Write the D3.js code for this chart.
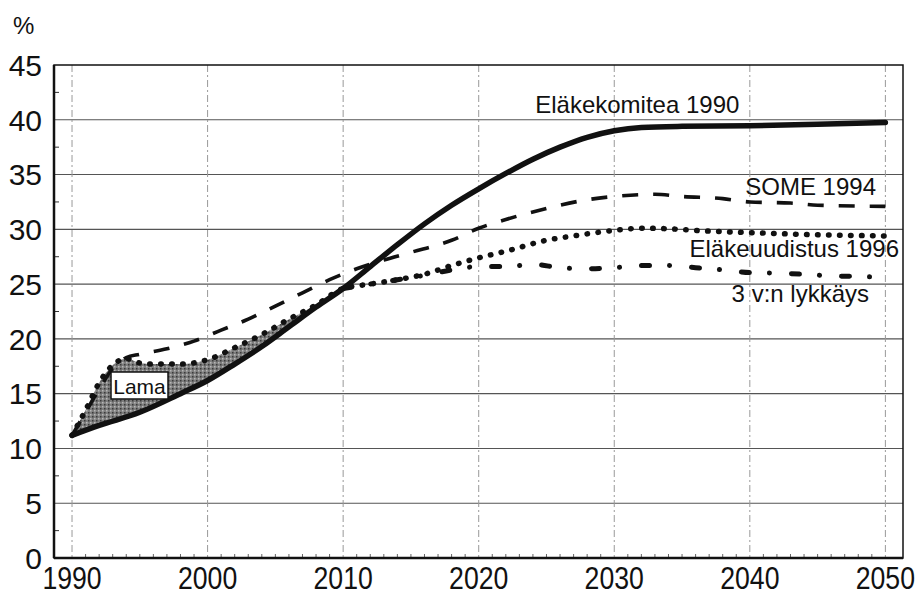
<!DOCTYPE html>
<html><head><meta charset="utf-8">
<script src="https://cdn.jsdelivr.net/npm/d3@7"></script>
<style>
html,body{margin:0;padding:0;background:#fff;}
text{font-family:"Liberation Sans",Arial,sans-serif;fill:#111;}
</style></head>
<body><svg id="c" width="922" height="597"></svg>
<script>
// ---- data ----
const xTicks = [1990, 2000, 2010, 2020, 2030, 2040, 2050];
const yTicks = [0, 5, 10, 15, 20, 25, 30, 35, 40, 45];

const komiteaYears = [1990,1992,1995,1998,2000,2002,2004,2006,2008,2010,2012,2014,2016,2018,2020,2022,2024,2026,2028,2030,2032,2035,2040,2045,2050];
const komiteaVals  = [11.2,12.1,13.3,15.0,16.2,17.7,19.3,21.1,22.9,24.6,26.6,28.6,30.5,32.2,33.7,35.1,36.4,37.5,38.4,39.0,39.3,39.4,39.45,39.6,39.75];

const someYears = [1990,1991,1992,1993,1994,1995,1997,1999,2001,2003,2005,2007,2009,2011,2013,2015,2018,2020,2022,2025,2028,2030,2033,2035,2038,2040,2043,2045,2050];
const someVals  = [11.2,13.3,15.4,17.3,18.3,18.6,19.1,19.8,20.8,21.8,23.0,24.2,25.4,26.4,27.2,27.9,29.0,30.1,30.9,31.9,32.7,33.0,33.2,33.0,32.8,32.5,32.4,32.2,32.1];

const uudYears = [1990,1991,1992,1993,1994,1995,1996,1998,2000,2002,2004,2006,2008,2010,2012,2014,2016,2018,2020,2022,2025,2027,2030,2032,2034,2036,2040,2045,2050];
const uudVals  = [11.2,13.5,16.0,17.6,18.2,17.8,17.7,17.7,18.1,19.2,20.4,21.8,23.1,24.6,25.0,25.4,25.9,26.7,27.4,28.0,29.0,29.4,29.9,30.1,30.05,29.9,29.7,29.5,29.4];

const lykYears = [2010,2012,2014,2016,2018,2020,2022,2024,2026,2028,2030,2032,2034,2036,2038,2040,2042,2044,2046,2048,2050];
const lykVals  = [24.6,25.0,25.4,25.8,26.3,26.6,26.6,26.8,26.5,26.4,26.5,26.7,26.7,26.5,26.3,26.05,26.0,25.9,25.75,25.7,25.6];

const lamaEnd = 2010;

// ---- setup ----
const svg = d3.select("#c");
const x = d3.scaleLinear().domain([1988.67, 2051.3]).range([54, 903]);
const y = d3.scaleLinear().domain([0, 45]).range([558, 65]);
const X0 = x.range()[0], X1 = x.range()[1], Y0 = y.range()[0], Y1 = y.range()[1];

const zip = (xs, vs) => xs.map((d, i) => [d, vs[i]]);
const komitea = zip(komiteaYears, komiteaVals);
const some = zip(someYears, someVals);
const uud = zip(uudYears, uudVals);
const lyk = zip(lykYears, lykVals);

const line = d3.line().x(d => x(d[0])).y(d => y(d[1])).curve(d3.curveMonotoneX);

// grid: horizontal
svg.append("g").selectAll("line").data(yTicks.filter(v => v > 0 && v < 45)).join("line")
  .attr("x1", X0).attr("x2", X1).attr("y1", d => y(d)).attr("y2", d => y(d))
  .attr("stroke", "#555").attr("stroke-width", 1.1);
// grid: vertical
svg.append("g").selectAll("line").data(xTicks).join("line")
  .attr("x1", d => x(d)).attr("x2", d => x(d)).attr("y1", Y1).attr("y2", Y0)
  .attr("stroke", "#999").attr("stroke-width", 1).attr("stroke-dasharray", "7,3,2,3");

// minor ticks
const yMinor = d3.range(2.5, 45, 5);
svg.append("g").selectAll("line").data(yMinor).join("line")
  .attr("x1", X0).attr("x2", X0 + 5).attr("y1", d => y(d)).attr("y2", d => y(d))
  .attr("stroke", "#333").attr("stroke-width", 1);
const xMinor = d3.range(1990, 2051, 1).filter(v => v % 10 !== 0);
svg.append("g").selectAll("line").data(xMinor).join("line")
  .attr("x1", d => x(d)).attr("x2", d => x(d)).attr("y1", Y0 - 4).attr("y2", Y0)
  .attr("stroke", "#666").attr("stroke-width", 1);

// Lama area (between Eläkeuudistus and Eläkekomitea, 1990-2010)
const upper = uud.filter(d => d[0] <= lamaEnd);
const lower = komitea.filter(d => d[0] <= lamaEnd);
const lamaPath = line(upper) + line(lower.slice().reverse()).replace(/^M/, "L") + "Z";
const defs = svg.append("defs");
const pat = defs.append("pattern").attr("id", "stip").attr("width", 4).attr("height", 4)
  .attr("patternUnits", "userSpaceOnUse");
pat.append("rect").attr("width", 4).attr("height", 4).attr("fill", "#7d7d7d");
pat.append("rect").attr("x", 0).attr("y", 0).attr("width", 1.5).attr("height", 1.5).attr("fill", "#3a3a3a");
pat.append("rect").attr("x", 2).attr("y", 2).attr("width", 1.5).attr("height", 1.5).attr("fill", "#b8b8b8");
svg.append("path").attr("d", lamaPath).attr("fill", "url(#stip)").attr("stroke", "none");

// frame
svg.append("rect").attr("x", X0).attr("y", Y1).attr("width", X1 - X0).attr("height", Y0 - Y1)
  .attr("fill", "none").attr("stroke", "#111").attr("stroke-width", 1.5);
svg.append("line").attr("x1", X0).attr("x2", X0).attr("y1", Y1).attr("y2", Y0).attr("stroke", "#111").attr("stroke-width", 2.5);
svg.append("line").attr("x1", X0).attr("x2", X1).attr("y1", Y0).attr("y2", Y0).attr("stroke", "#111").attr("stroke-width", 2.5);

// series
svg.append("path").attr("d", line(some)).attr("fill", "none").attr("stroke", "#111")
  .attr("stroke-width", 3.6).attr("stroke-dasharray", "16,15");
svg.append("path").attr("d", line(uud)).attr("fill", "none").attr("stroke", "#111")
  .attr("stroke-width", 5.5).attr("stroke-linecap", "round").attr("stroke-dasharray", "0.5,10.5");
svg.append("path").attr("d", line(lyk)).attr("fill", "none").attr("stroke", "#111")
  .attr("stroke-width", 5).attr("stroke-linecap", "round").attr("stroke-dasharray", "8,20,0.1,22");
svg.append("path").attr("d", line(komitea)).attr("fill", "none").attr("stroke", "#111")
  .attr("stroke-width", 5.5).attr("stroke-linecap", "round").attr("stroke-linejoin", "round");

// axis labels
svg.append("g").selectAll("text").data(yTicks).join("text")
  .attr("x", 42).attr("y", d => y(d)).attr("dy", "0.36em").attr("text-anchor", "end")
  .style("font-size", "30px").text(d => d);
svg.append("g").selectAll("text").data(xTicks).join("text")
  .attr("transform", d => `translate(${x(d)},589) scale(0.86,1)`).attr("text-anchor", "middle")
  .style("font-size", "31px").text(d => d);
svg.append("text").attr("x", 13).attr("y", 34).style("font-size", "24px").text("%");

// series labels
svg.append("text").attr("x", x(2024.17)).attr("y", 113).style("font-size", "24px").text("Eläkekomitea 1990");
svg.append("text").attr("x", 876).attr("y", 195).attr("text-anchor", "end").style("font-size", "24px").text("SOME 1994");
svg.append("text").attr("x", 899).attr("y", 257).attr("text-anchor", "end").style("font-size", "24px").text("Eläkeuudistus 1996");
svg.append("text").attr("x", 869).attr("y", 302).attr("text-anchor", "end").style("font-size", "24px").text("3 v:n lykkäys");

// Lama box
svg.append("rect").attr("x", 111).attr("y", 372).attr("width", 57).attr("height", 27)
  .attr("fill", "#fff").attr("stroke", "#111").attr("stroke-width", 1.5);
svg.append("text").attr("x", 139.5).attr("y", 393.5).attr("text-anchor", "middle").style("font-size", "21px").text("Lama");
</script></body></html>
